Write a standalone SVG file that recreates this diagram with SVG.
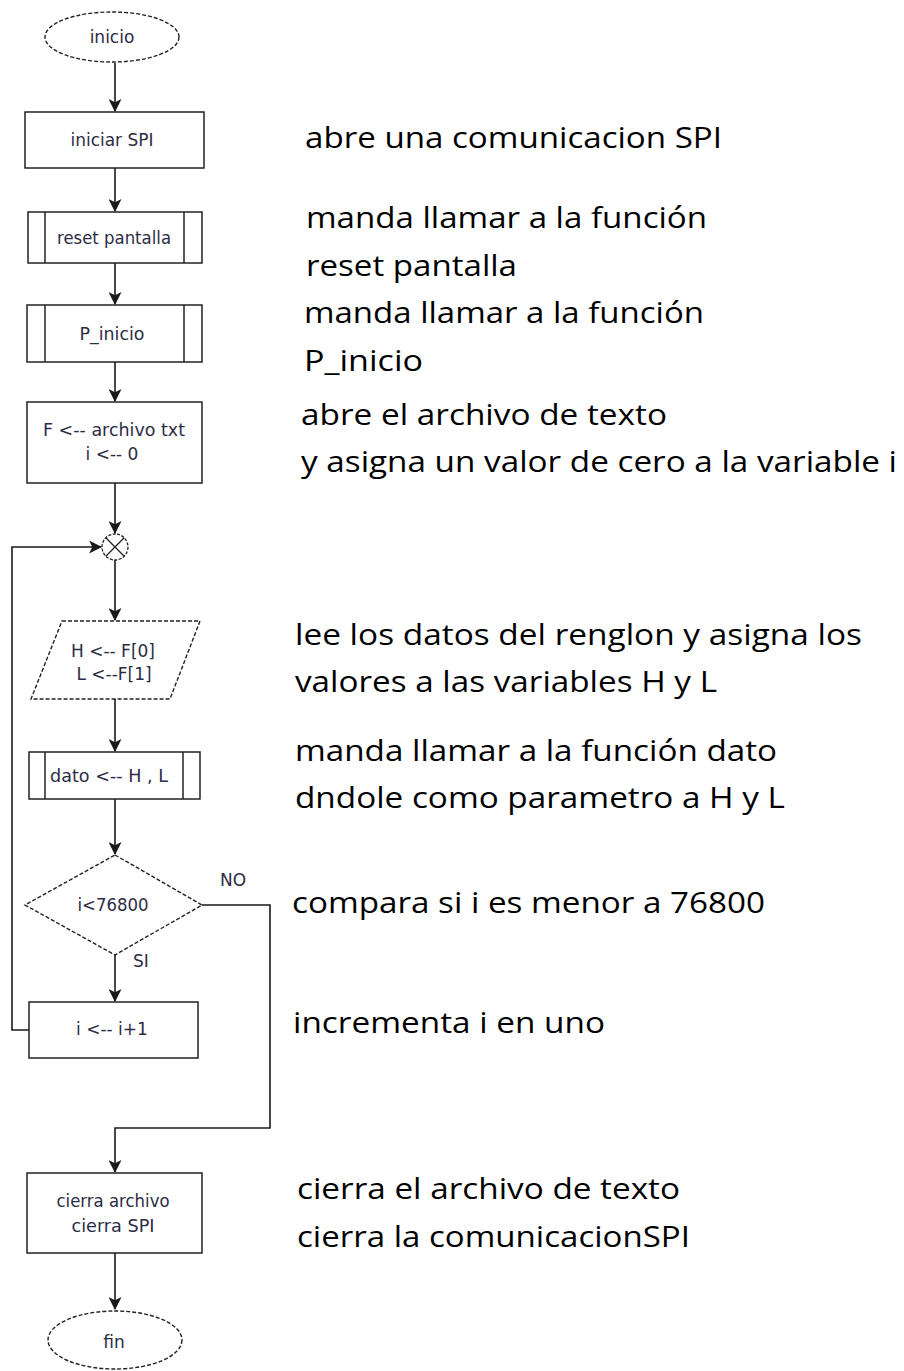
<svg xmlns="http://www.w3.org/2000/svg" width="904" height="1371" viewBox="0 0 904 1371">
  <defs>
    <marker id="arrow" viewBox="0 0 12 12" refX="11" refY="6" markerWidth="13" markerHeight="13" markerUnits="userSpaceOnUse" orient="auto">
      <path d="M0,0 L12,6 L0,12 L3,6 z" fill="#1a1a1a"/>
    </marker>
    <style>
      .box { fill: #ffffff; stroke: #222222; stroke-width: 1.5; }
      .dash { fill: #ffffff; stroke: #222222; stroke-width: 1.4; stroke-dasharray: 4 2; }
      .edge { fill: none; stroke: #1a1a1a; stroke-width: 1.6; }
      .lbl { font-family: "DejaVu Sans", "Liberation Sans", sans-serif; font-size: 17px; fill: #2c2c44; text-anchor: middle; }
      .tag { font-family: "DejaVu Sans", "Liberation Sans", sans-serif; font-size: 17px; fill: #2c2c44; }
      .note { font-family: "Open Sans", "Noto Sans", sans-serif; font-size: 30px; fill: #000000; }
    </style>
  </defs>
  <rect width="904" height="1371" fill="#ffffff"/>

  <!-- connectors -->
  <g id="connectors">
    <line class="edge" x1="115" y1="63" x2="115" y2="111" marker-end="url(#arrow)"/>
    <line class="edge" x1="115" y1="168" x2="115" y2="211" marker-end="url(#arrow)"/>
    <line class="edge" x1="115" y1="263" x2="115" y2="304" marker-end="url(#arrow)"/>
    <line class="edge" x1="115" y1="362" x2="115" y2="401" marker-end="url(#arrow)"/>
    <line class="edge" x1="115" y1="483" x2="115" y2="533" marker-end="url(#arrow)"/>
    <line class="edge" x1="115" y1="560" x2="115" y2="620" marker-end="url(#arrow)"/>
    <line class="edge" x1="115" y1="699" x2="115" y2="751" marker-end="url(#arrow)"/>
    <line class="edge" x1="115" y1="799" x2="115" y2="854" marker-end="url(#arrow)"/>
    <line class="edge" x1="115" y1="955" x2="115" y2="1001" marker-end="url(#arrow)"/>
    <!-- loop back from the increment to the junction -->
    <polyline class="edge" points="29,1030 12,1030 12,547 101,547" marker-end="url(#arrow)"/>
    <!-- NO branch exits the loop -->
    <polyline class="edge" points="202,905 270,905 270,1128 115,1128 115,1172" marker-end="url(#arrow)"/>
    <line class="edge" x1="115" y1="1253" x2="115" y2="1309" marker-end="url(#arrow)"/>
    <text class="tag" x="220" y="886">NO</text>
    <text class="tag" x="133" y="967">SI</text>
  </g>

  <!-- start -->
  <g id="n-inicio">
    <ellipse class="dash" cx="112" cy="37" rx="67" ry="25"/>
    <text class="lbl" x="112" y="43">inicio</text>
  </g>

  <g id="n-iniciar-spi">
    <rect class="box" x="25" y="112" width="179" height="56"/>
    <text class="lbl" x="112" y="146" textLength="83" lengthAdjust="spacingAndGlyphs">iniciar SPI</text>
  </g>

  <g id="n-reset-pantalla">
    <rect class="box" x="28" y="212" width="174" height="51"/>
    <line class="box" x1="45" y1="212" x2="45" y2="263"/>
    <line class="box" x1="184" y1="212" x2="184" y2="263"/>
    <text class="lbl" x="114" y="244" textLength="114" lengthAdjust="spacingAndGlyphs">reset pantalla</text>
  </g>

  <g id="n-p-inicio">
    <rect class="box" x="27" y="305" width="175" height="57"/>
    <line class="box" x1="45" y1="305" x2="45" y2="362"/>
    <line class="box" x1="184" y1="305" x2="184" y2="362"/>
    <text class="lbl" x="112" y="340" textLength="65" lengthAdjust="spacingAndGlyphs">P_inicio</text>
  </g>

  <g id="n-abrir-archivo">
    <rect class="box" x="27" y="402" width="175" height="81"/>
    <text class="lbl" x="114" y="436" textLength="142" lengthAdjust="spacingAndGlyphs">F &lt;-- archivo txt</text>
    <text class="lbl" x="112" y="460">i &lt;-- 0</text>
  </g>

  <g id="n-junction">
    <circle cx="115" cy="547" r="13" fill="#ffffff" stroke="#222222" stroke-width="1.3" stroke-dasharray="3 1.5"/>
    <path d="M105.8,537.8 L124.2,556.2 M124.2,537.8 L105.8,556.2" stroke="#222222" stroke-width="1.3" fill="none"/>
  </g>

  <g id="n-leer">
    <polygon class="dash" points="62,621 200,621 170,699 31,699"/>
    <text class="lbl" x="113" y="657">H &lt;-- F[0]</text>
    <text class="lbl" x="114" y="680">L &lt;--F[1]</text>
  </g>

  <g id="n-dato">
    <rect class="box" x="29" y="752" width="171" height="47"/>
    <line class="box" x1="45" y1="752" x2="45" y2="799"/>
    <line class="box" x1="183" y1="752" x2="183" y2="799"/>
    <text class="lbl" x="109" y="782" textLength="118" lengthAdjust="spacingAndGlyphs">dato &lt;-- H , L</text>
  </g>

  <g id="n-compara">
    <polygon class="dash" points="115,855 202,905 115,955 25,905"/>
    <text class="lbl" x="113" y="911" textLength="71" lengthAdjust="spacingAndGlyphs">i&lt;76800</text>
  </g>

  <g id="n-incrementa">
    <rect class="box" x="29" y="1002" width="169" height="56"/>
    <text class="lbl" x="112" y="1035">i &lt;-- i+1</text>
  </g>

  <g id="n-cierra">
    <rect class="box" x="27" y="1173" width="175" height="80"/>
    <text class="lbl" x="113" y="1207" textLength="113" lengthAdjust="spacingAndGlyphs">cierra archivo</text>
    <text class="lbl" x="113" y="1232" textLength="83" lengthAdjust="spacingAndGlyphs">cierra SPI</text>
  </g>

  <!-- end -->
  <g id="n-fin">
    <ellipse class="dash" cx="115" cy="1340" rx="67" ry="29"/>
    <text class="lbl" x="114" y="1348">fin</text>
  </g>

  <!-- descriptions beside the steps -->
  <g id="notes">
    <text class="note" x="305" y="148" textLength="417" lengthAdjust="spacingAndGlyphs">abre una comunicacion SPI</text>
    <text class="note" x="306" y="228" textLength="401" lengthAdjust="spacingAndGlyphs">manda llamar a la función</text>
    <text class="note" x="306" y="276" textLength="211" lengthAdjust="spacingAndGlyphs">reset pantalla</text>
    <text class="note" x="304" y="323" textLength="400" lengthAdjust="spacingAndGlyphs">manda llamar a la función</text>
    <text class="note" x="304" y="371" textLength="119" lengthAdjust="spacingAndGlyphs">P_inicio</text>
    <text class="note" x="301" y="425" textLength="366" lengthAdjust="spacingAndGlyphs">abre el archivo de texto</text>
    <text class="note" x="301" y="472" textLength="596" lengthAdjust="spacingAndGlyphs">y asigna un valor de cero a la variable i</text>
    <text class="note" x="295" y="645" textLength="567" lengthAdjust="spacingAndGlyphs">lee los datos del renglon y asigna los</text>
    <text class="note" x="295" y="692" textLength="422" lengthAdjust="spacingAndGlyphs">valores a las variables H y L</text>
    <text class="note" x="295" y="761" textLength="482" lengthAdjust="spacingAndGlyphs">manda llamar a la función dato</text>
    <text class="note" x="295" y="808" textLength="490" lengthAdjust="spacingAndGlyphs">dndole como parametro a H y L</text>
    <text class="note" x="292" y="913" textLength="473" lengthAdjust="spacingAndGlyphs">compara si i es menor a 76800</text>
    <text class="note" x="293" y="1033" textLength="312" lengthAdjust="spacingAndGlyphs">incrementa i en uno</text>
    <text class="note" x="297" y="1199" textLength="383" lengthAdjust="spacingAndGlyphs">cierra el archivo de texto</text>
    <text class="note" x="297" y="1247" textLength="393" lengthAdjust="spacingAndGlyphs">cierra la comunicacionSPI</text>
  </g>
</svg>
